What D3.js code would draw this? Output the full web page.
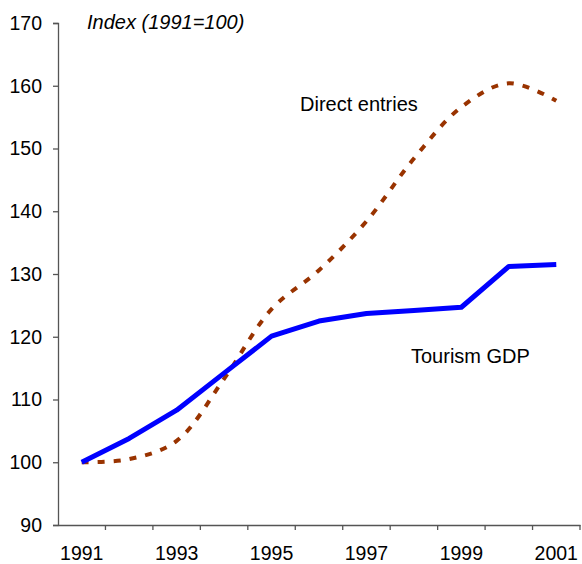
<!DOCTYPE html>
<html>
<head>
<meta charset="utf-8">
<script src="https://cdn.jsdelivr.net/npm/d3@7"></script>
<style>
	body { margin: 0; background: #fff; }
	text { font-family: "Liberation Sans", Arial, sans-serif; fill: #000; }
</style>
</head>
<body>
<svg id="chart" width="582" height="564"></svg>
<script>
// data
var years = [1991, 1992, 1993, 1994, 1995, 1996, 1997, 1998, 1999, 2000, 2001];
var tourism_gdp = [100, 103.8, 108.3, 114.2, 120.1, 122.5, 123.7, 124.2, 124.7, 131.2, 131.5];
var direct_entries = [100, 100.5, 103.4, 113.3, 124.4, 130.6, 138.4, 148.4, 156.6, 160.4, 157.6];
var y_ticks = [90, 100, 110, 120, 130, 140, 150, 160, 170];
var x_labels = [1991, 1993, 1995, 1997, 1999, 2001];

var svg = d3.select('#chart');
var plot = { left: 58, right: 580, top: 23, bottom: 525 };
var font_size = '19.5px';

var x = d3.scaleBand().domain(years).range([plot.left, plot.right]);
var y = d3.scaleLinear().domain([90, 170]).range([plot.bottom, plot.top]);
var cx = function(d, i){ return x(years[i]) + x.bandwidth()/2; };

// y axis
var yaxis = d3.axisLeft(y).tickValues(y_ticks).tickSize(5).tickPadding(11);
var yg = svg.append('g')
	.attr('class', 'axis axis-y')
	.attr('transform', 'translate(' + plot.left + ',0)')
	.call(yaxis);

// x axis: ticks between categories, labels every other year
var xaxis = d3.axisBottom(x).tickValues([]).tickSizeOuter(0);
var xg = svg.append('g')
	.attr('class', 'axis axis-x')
	.attr('transform', 'translate(0,' + plot.bottom + ')')
	.call(xaxis);
xg.selectAll('.sep')
	.data(years)
	.enter().append('line')
	.attr('class', 'sep')
	.attr('x1', function(d){ return x(d) + x.bandwidth(); })
	.attr('x2', function(d){ return x(d) + x.bandwidth(); })
	.attr('y1', 0).attr('y2', 5);
xg.selectAll('.lbl')
	.data(x_labels)
	.enter().append('text')
	.attr('class', 'lbl')
	.attr('x', function(d){ return x(d) + x.bandwidth()/2; })
	.attr('y', 35)
	.attr('text-anchor', 'middle')
	.style('font-size', font_size)
	.text(function(d){ return d; });

svg.selectAll('.axis path, .axis line')
	.attr('stroke', '#555')
	.attr('stroke-width', 1.3);
yg.selectAll('text').style('font-size', font_size).attr('fill', '#000');

// lines
var entries_line = d3.line()
	.x(cx)
	.y(function(d){ return y(d); })
	.curve(d3.curveCatmullRom.alpha(0.5));
svg.append('path')
	.datum(direct_entries)
	.attr('fill', 'none')
	.attr('stroke', '#993300')
	.attr('stroke-width', 4)
	.attr('stroke-dasharray', '7,9')
	.attr('d', entries_line);

var gdp_line = d3.line()
	.x(cx)
	.y(function(d){ return y(d); });
svg.append('path')
	.datum(tourism_gdp)
	.attr('fill', 'none')
	.attr('stroke', '#0000ff')
	.attr('stroke-width', 5)
	.attr('stroke-linejoin', 'round')
	.attr('d', gdp_line);

// labels
svg.append('text')
	.attr('x', 87).attr('y', 29)
	.style('font-size', '20px')
	.style('font-style', 'italic')
	.text('Index (1991=100)');
svg.append('text')
	.attr('x', 300).attr('y', 111)
	.style('font-size', '20px')
	.text('Direct entries');
svg.append('text')
	.attr('x', 411).attr('y', 363)
	.style('font-size', '20px')
	.text('Tourism GDP');
</script>
</body>
</html>
